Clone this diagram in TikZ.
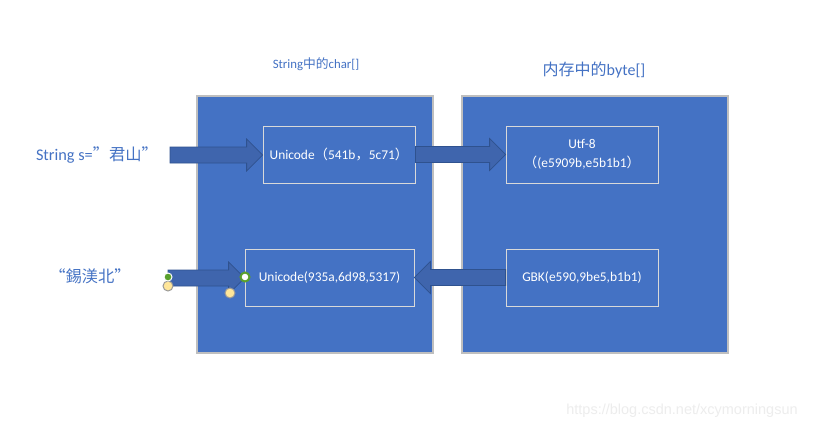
\documentclass[tikz,border=0pt]{standalone}
\usepackage{fontspec}
\setmainfont{Carlito}
\newfontfamily\cjk{Noto Sans CJK SC}
\newfontfamily\markfont{Liberation Sans}
\usetikzlibrary{calc}
\definecolor{pptblue}{HTML}{4472C4}
\definecolor{arrowblue}{HTML}{3F65AD}
\definecolor{arrowline}{HTML}{2F528F}
\definecolor{handlegreen}{HTML}{5AA02C}
\definecolor{handleyellow}{HTML}{FFE699}

\newcommand\fatarrow[3]{%
  \fill[arrowblue] let \p1=(#1), \p2=(#2) in
    (\x1,{\y1+8pt}) -- ({\x2-(#3)*16pt},{\y1+8pt}) -- ({\x2-(#3)*16pt},{\y1+16pt})
    -- (\x2,\y1) -- ({\x2-(#3)*16pt},{\y1-16pt}) -- ({\x2-(#3)*16pt},{\y1-8pt})
    -- (\x1,{\y1-8pt}) -- cycle;
  \draw[arrowline,line width=0.8pt] let \p1=(#1), \p2=(#2) in
    (\x1,{\y1+8pt}) -- ({\x2-(#3)*16pt},{\y1+8pt}) -- ({\x2-(#3)*16pt},{\y1+16pt})
    -- (\x2,\y1) -- ({\x2-(#3)*16pt},{\y1-16pt}) -- ({\x2-(#3)*16pt},{\y1-8pt})
    -- (\x1,{\y1-8pt}) -- cycle;}

\begin{document}
\begin{tikzpicture}[x=1pt,y=-1pt,
  panel/.style={draw=black!25,line width=1.2pt,fill=pptblue},
  codebox/.style={draw=black!15,line width=0.8pt,minimum width=152pt,minimum height=57pt,
    text=white,font=\fontsize{13.4}{19}\selectfont,align=center,inner sep=0pt},
  biglabel/.style={text=pptblue,font=\fontsize{16.3}{19}\selectfont},
  handle/.style={circle,draw=white,line width=1pt,fill=handlegreen,inner sep=0pt,minimum size=8pt},
  knob/.style={circle,draw=black!40,line width=1pt,fill=handleyellow,inner sep=0pt,minimum size=10pt}]
\useasboundingbox[fill=white] (0,0) rectangle (821,429);

\draw[panel] (197,96) rectangle (433,353);
\draw[panel] (462,96) rectangle (728,353);

\node[text=pptblue,font=\fontsize{12.8}{15}\selectfont] (chartitle) at (316,64) {String{\cjk 中的}char[]};
\node[biglabel,font=\fontsize{16}{19}\selectfont] (bytetitle) at (594,70) {{\cjk 内存中的}byte[]};

\node[codebox] (uni1) at (339,154.5) {Unicode{\cjk （}541b{\cjk ，}5c71{\cjk ）}};
\node[codebox] (utf) at (582,154.5) {Utf-8\\{\cjk （}(e5909b,e5b1b1{\cjk ）}};
\node[codebox,minimum width=169pt] (uni2) at (329.5,277.5) {Unicode(935a,6d98,5317)};
\node[codebox] (gbk) at (582,277.5) {GBK(e590,9be5,b1b1)};

\node[biglabel] (str) at (97,155) {String s={\cjk ”君山”}};
\node[biglabel] (bytes) at (90,276) {\cjk “錫渼北”};

\coordinate (in1) at (170,155);
\coordinate (in2) at (168,278);

\fatarrow{in1}{uni1.west}{1}
\fatarrow{uni1.east}{utf.west}{1}
\fatarrow{in2}{uni2.west}{1}
\fatarrow{gbk.west}{uni2.east}{-1}

\node[knob] (k1) at (168,286) {};
\node[handle] (h1) at (168,277) {};
\node[knob] (k2) at (230,293) {};
\node[handle,draw=handlegreen,fill=white,line width=2pt,minimum size=9pt] (h2) at (245,277) {};

\node[text=black!7,font=\fontsize{14.5}{17}\selectfont\markfont] (mark) at (682,411) {https://blog.csdn.net/xcymorningsun};
\end{tikzpicture}
\end{document}
